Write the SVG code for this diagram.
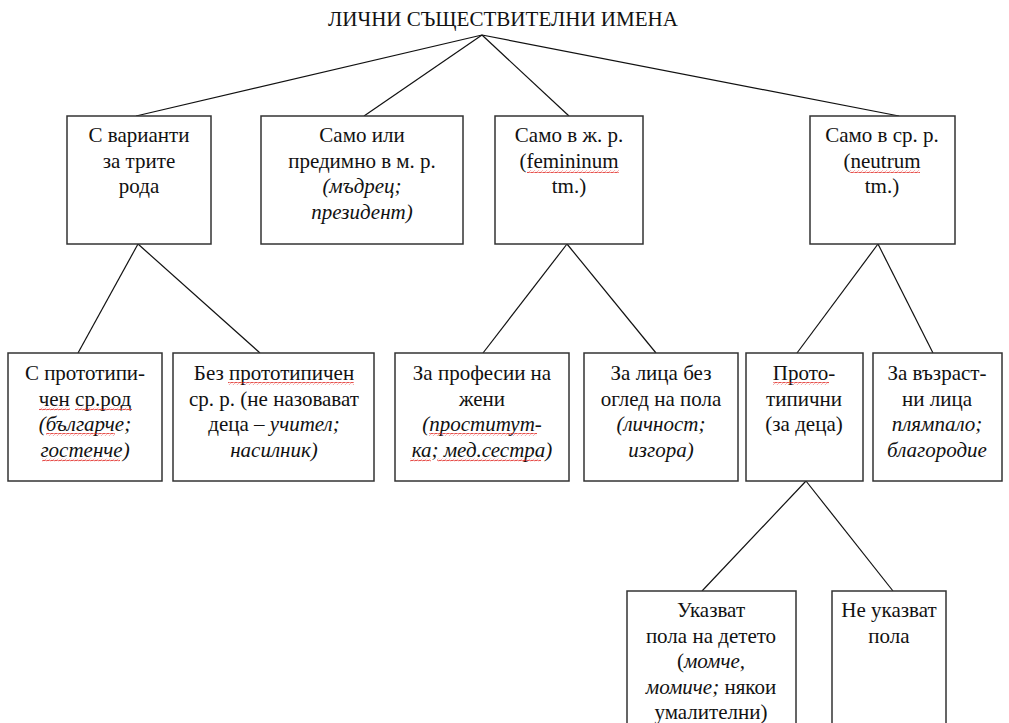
<svg xmlns="http://www.w3.org/2000/svg" width="1009" height="723" viewBox="0 0 1009 723">
<style>
.box{fill:#fff;stroke:#333;stroke-width:1.5}
.t{font-family:"Liberation Serif","Times New Roman",serif;font-size:21px;fill:#111;text-anchor:middle}
.i{font-style:italic}
.c{stroke:#111;stroke-width:1.2;fill:none}
</style>
<defs>
<pattern id="wavy" width="4" height="3" patternUnits="userSpaceOnUse">
<path d="M0 2.2 L1 0.8 L3 2.2 L4 0.8" stroke="#e0201b" stroke-width="0.8" fill="none"/>
</pattern>
</defs>
<rect width="1009" height="723" fill="#fff"/>
<text id="title" class="t" x="503" y="26" font-size="23.5" textLength="350" lengthAdjust="spacingAndGlyphs">ЛИЧНИ СЪЩЕСТВИТЕЛНИ ИМЕНА</text>
<g id="connectors">
<line class="c" x1="482" y1="35" x2="136" y2="116"/>
<line class="c" x1="482" y1="35" x2="364" y2="116"/>
<line class="c" x1="482" y1="35" x2="569" y2="116"/>
<line class="c" x1="482" y1="35" x2="899" y2="116"/>
<line class="c" x1="138" y1="244" x2="78" y2="353"/>
<line class="c" x1="138" y1="244" x2="260" y2="353"/>
<line class="c" x1="567" y1="244" x2="483" y2="353"/>
<line class="c" x1="567" y1="244" x2="656" y2="353"/>
<line class="c" x1="878" y1="244" x2="797" y2="353"/>
<line class="c" x1="878" y1="244" x2="933" y2="353"/>
<line class="c" x1="806" y1="481" x2="702" y2="591"/>
<line class="c" x1="806" y1="481" x2="893" y2="591"/>
</g>
<g id="n1">
<rect class="box" x="67" y="116" width="144" height="128"/>
<text class="t" x="139" y="142">С варианти</text>
<text class="t" x="139" y="168">за трите</text>
<text class="t" x="139" y="193">рода</text>
</g>
<g id="n2">
<rect class="box" x="261" y="116" width="202" height="128"/>
<text class="t" x="362" y="142">Само или</text>
<text class="t" x="362" y="168">предимно в м. р.</text>
<text class="t i" x="362" y="193">(мъдрец;</text>
<text class="t i" x="362" y="219">президент)</text>
</g>
<g id="n3">
<rect class="box" x="495" y="116" width="148" height="128"/>
<text class="t" x="569" y="142">Само в ж. р.</text>
<text class="t" x="569" y="168">(femininum</text>
<text class="t" x="569" y="193">tm.)</text>
<rect x="527" y="170" width="92" height="3" fill="url(#wavy)"/>
</g>
<g id="n4">
<rect class="box" x="810" y="116" width="145" height="128"/>
<text class="t" x="882" y="142">Само в ср. р.</text>
<text class="t" x="882" y="168">(neutrum</text>
<text class="t" x="882" y="193">tm.)</text>
<rect x="850" y="170" width="70" height="3" fill="url(#wavy)"/>
</g>
<g id="n5">
<rect class="box" x="8" y="353" width="154" height="128"/>
<text class="t" x="85" y="380">С прототипи-</text>
<text class="t" x="85" y="405.5">чен ср.род</text>
<text class="t i" x="85" y="431">(българче;</text>
<text class="t i" x="85" y="456.5">гостенче)</text>
<rect x="39" y="407.5" width="31" height="3" fill="url(#wavy)"/>
<rect x="75" y="407.5" width="57" height="3" fill="url(#wavy)"/>
<rect x="46" y="433" width="69" height="3" fill="url(#wavy)"/>
<rect x="42" y="458.5" width="78" height="3" fill="url(#wavy)"/>
</g>
<g id="n6">
<rect class="box" x="173" y="353" width="201" height="128"/>
<text class="t" x="274" y="380">Без прототипичен</text>
<text class="t" x="274" y="405.5">ср. р. (не назовават</text>
<text class="t" x="274" y="431">деца – <tspan class="i">учител;</tspan></text>
<text class="t i" x="274" y="456.5">насилник)</text>
<rect x="228" y="382" width="126" height="3" fill="url(#wavy)"/>
</g>
<g id="n7">
<rect class="box" x="395" y="353" width="174" height="128"/>
<text class="t" x="482" y="380">За професии на</text>
<text class="t" x="482" y="405.5">жени</text>
<text class="t i" x="482" y="431">(проститут-</text>
<text class="t i" x="482" y="456.5">ка; мед.сестра)</text>
<rect x="429" y="433" width="108" height="3" fill="url(#wavy)"/>
<rect x="410" y="458.5" width="21" height="3" fill="url(#wavy)"/>
<rect x="437" y="458.5" width="104" height="3" fill="url(#wavy)"/>
</g>
<g id="n8">
<rect class="box" x="584" y="353" width="154" height="128"/>
<text class="t" x="661" y="380">За лица без</text>
<text class="t" x="661" y="405.5">оглед на пола</text>
<text class="t i" x="661" y="431">(личност;</text>
<text class="t i" x="661" y="456.5">изгора)</text>
</g>
<g id="n9">
<rect class="box" x="746" y="353" width="117" height="128"/>
<text class="t" x="804" y="380">Прото-</text>
<text class="t" x="804" y="405.5">типични</text>
<text class="t" x="804" y="431">(за деца)</text>
<rect x="773" y="382" width="56" height="3" fill="url(#wavy)"/>
</g>
<g id="n10">
<rect class="box" x="873" y="353" width="129" height="128"/>
<text class="t" x="937" y="380">За възраст-</text>
<text class="t" x="937" y="405.5">ни лица</text>
<text class="t i" x="937" y="431">плямпало;</text>
<text class="t i" x="937" y="456.5">благородие</text>
</g>
<g id="n11">
<rect class="box" x="627" y="591" width="169" height="140"/>
<text class="t" x="711" y="617">Указват</text>
<text class="t" x="711" y="642.5">пола на детето</text>
<text class="t" x="711" y="668">(<tspan class="i">момче,</tspan></text>
<text class="t" x="711" y="693.5"><tspan class="i">момиче;</tspan> някои</text>
<text class="t" x="711" y="719">умалителни)</text>
</g>
<g id="n12">
<rect class="box" x="832" y="591" width="114" height="140"/>
<text class="t" x="889" y="617">Не указват</text>
<text class="t" x="889" y="642.5">пола</text>
</g>
</svg>
